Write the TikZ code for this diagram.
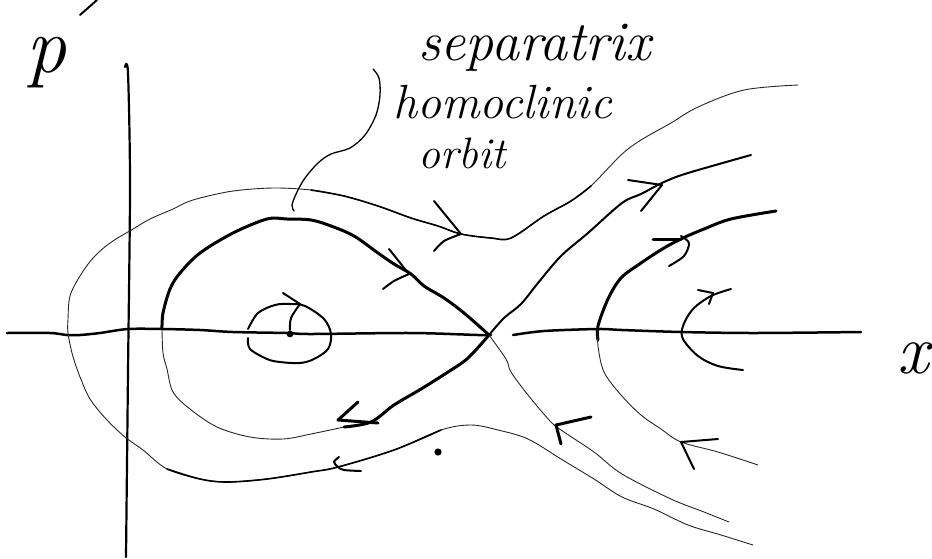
\documentclass[tikz,border=0pt]{standalone}
\begin{document}
\begin{tikzpicture}[x=1pt,y=-1pt,line cap=round,line join=round,
  bold/.style={line width=3pt},
  med/.style={line width=2pt},
  thin/.style={line width=0.9pt,black!85},
  axisline/.style={line width=2.5pt},
  handlabel/.style={inner sep=0pt,font=\itshape}]
\useasboundingbox (0,0) rectangle (932,558);

% axes
\draw[axisline] plot[smooth,tension=0.5] coordinates {(7,333)(50,333)(67,335)(80,335)(100,333)(128,329)(163,329)(200,330)(233,332)(287,333)(311,334)(411,333)(478,335)(491,335)};
\draw[axisline] plot[smooth,tension=0.5] coordinates {(513,335)(544,331)(598,329)(622,330)(681,332)(754,333)(861,332)};
\draw[line width=2.2pt] plot[smooth,tension=0.5] coordinates {(125,67)(128,73)(130,186)(128,372)(126,557)};

% stray mark at top
\draw[med] (80,15) -- (97,0);

% homoclinic loop
\draw[bold] plot[smooth,tension=0.55] coordinates {(489,335)(464,313)(444,298)(424,286)(411,274)(394,264)(378,253)(354,236)(331,226)(311,220)(287,219)(267,219)(233,233)(200,253)(180,273)(170,289)(163,313)(162,329)};
\draw[thin] plot[smooth,tension=0.55] coordinates {(162,329)(163,353)(167,369)(173,392)(190,409)(217,427)(250,437)(283,439)(311,434)(344,427)};
\draw[bold] plot[smooth,tension=0.55] coordinates {(344,427)(371,422)(394,405)(421,389)(448,372)(468,358)(489,335)};
% arrows on homoclinic loop
\draw[med] (389,249) -- (409,274);
\draw[med] plot[smooth] coordinates {(409,274)(394,281)(383,289)};
\draw[bold] (358,402) -- (338,420) -- (378,423);

% unstable manifold to the upper right
\draw[med] plot[smooth,tension=0.55] coordinates {(489,335)(504,318)(521,304)(538,283)(561,256)(588,233)(622,203)(641,194)(664,182)(688,173)(751,155)};
\draw[med] (628,180) -- (662,185) -- (641,211);

% stable manifold lower right
\draw[thin] plot[smooth,tension=0.55] coordinates {(489,335)(506,359)(511,372)(528,395)(551,422)(564,432)(594,452)(622,474)(671,499)(704,512)(729,522)};
\draw[bold] (591,417) -- (556,425) -- (561,444);

% outer orbit
\draw[thin] plot[smooth,tension=0.55] coordinates {(798,85)(744,90)(698,107)(671,123)(641,140)(621,155)(591,186)(571,201)(544,216)(511,238)(491,238)(461,234)(438,226)(411,218)(378,206)(344,196)(311,190)(273,188)(233,191)(200,198)(185,203)(173,209)(150,219)(133,229)(110,243)(93,258)(80,276)(70,296)(68,319)(68,333)(72,353)(77,369)(80,377)(90,399)(107,420)(125,437)(143,450)(167,469)(200,479)(227,482)(267,479)(311,472)(338,467)(394,450)(441,430)(471,425)(498,430)(528,439)(561,459)(594,479)(622,497)(654,509)(688,525)(721,535)(753,545)};
\draw[line width=1.6pt] plot[smooth,tension=0.55] coordinates {(591,186)(571,201)(544,216)(511,238)(491,238)(461,234)(438,226)(411,218)(378,206)(344,196)(311,190)};
\draw[line width=1.6pt] plot[smooth,tension=0.55] coordinates {(167,469)(200,479)(227,482)(267,479)(311,472)(338,467)(394,450)(441,430)};
\draw[med] (434,201) -- (461,234);
\draw[med] plot[smooth] coordinates {(461,234)(444,241)(434,251)};
\draw[med] plot[smooth] coordinates {(339,457)(334,462)(338,467)(344,470)(361,471)};

% right-hand orbit
\draw[bold] plot[smooth,tension=0.55] coordinates {(776,211)(731,219)(704,229)(683,238)(664,248)(641,263)(621,278)(608,299)(598,326)(598,340)};
\draw[thin] plot[smooth,tension=0.55] coordinates {(598,330)(598,346)(604,372)(621,395)(641,415)(661,429)(681,442)(718,452)(758,465)};
\draw[bold] (653,239) -- (681,239);
\draw[med] plot[smooth] coordinates {(681,236)(689,243)(684,256)(669,266)};
\draw[med] (718,439) -- (681,442) -- (694,469);

% innermost right orbit
\draw[med] plot[smooth,tension=0.55] coordinates {(731,289)(711,296)(693,309)(683,326)(683,339)(698,356)(718,366)(743,370)};
\draw[med] (698,290) -- (713,293) -- (709,304);

% small closed orbit around the centre
\draw[med] plot[smooth,tension=0.55] coordinates {(248,329)(258,313)(275,305)(290,304)(305,306)(324,319)(331,334)(328,349)(314,359)(300,363)(280,362)(267,359)(250,349)(248,338)};
\draw[med] (283,293) -- (300,304);
\draw[med] plot[smooth] coordinates {(300,304)(291,318)(290,330)};
\fill (290,334) circle (3.4);
\fill (438,452) circle (3.6);

% leader from the label to the homoclinic orbit
\draw[line width=1.3pt] plot[smooth,tension=0.55] coordinates {(373,69)(379,78)(380,95)(376,115)(365,135)(350,148)(331,154)(318,163)(305,178)(297,192)(292,205)(294,211)};

% labels
\node[handlabel,anchor=base west,font=\itshape\fontsize{56}{60}\selectfont] (sep) at (418,60) {separatrix};
\node[handlabel,anchor=base west,font=\itshape\fontsize{48}{52}\selectfont] (hom) at (393,118) {homoclinic};
\node[handlabel,anchor=base west,font=\itshape\fontsize{44}{48}\selectfont] (orb) at (418,168) {orbit};
\node[handlabel,anchor=base,font=\itshape\fontsize{80}{84}\selectfont] (plab) at (47,72) {p};
\node[handlabel,anchor=base,font=\itshape\fontsize{70}{74}\selectfont] (xlab) at (913,373) {x};
\end{tikzpicture}
\end{document}
